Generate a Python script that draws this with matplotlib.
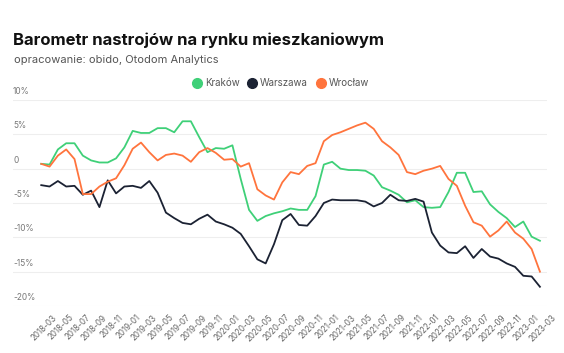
import matplotlib
matplotlib.use("Agg")
import matplotlib.pyplot as plt
import matplotlib.transforms as mtransforms
from matplotlib.lines import Line2D
import numpy as np
import pandas as pd

# miesiace 2018-03 .. 2023-03
months = pd.period_range("2018-03", "2023-03", freq="M").strftime("%Y-%m").tolist()

krakow = [0.7, 0.6, 2.8, 3.7, 3.7, 1.9, 1.2, 0.9, 0.9, 1.5,
          3.1, 5.5, 5.2, 5.2, 5.9, 5.9, 5.3, 6.9, 6.9, 4.6,
          2.4, 3.0, 2.9, 3.4, -1.5, -6.0, -7.6, -6.9, -6.5, -6.2,
          -5.8, -6.0, -6.0, -4.0, 0.6, 1.0, 0.0, -0.2, -0.2, -0.3,
          -1.0, -2.7, -3.2, -3.8, -4.9, -4.6, -5.6, -5.7, -5.6, -3.4,
          -0.6, -0.6, -3.4, -3.3, -5.2, -6.3, -7.2, -8.5, -7.7, -9.9,
          -10.5]
warszawa = [-2.4, -2.6, -1.8, -2.6, -2.5, -3.8, -3.2, -5.6, -1.7, -3.6,
            -2.6, -2.5, -2.8, -1.8, -3.5, -6.4, -7.2, -7.9, -8.1, -7.3,
            -6.7, -7.7, -8.1, -8.6, -9.5, -11.3, -13.2, -13.8, -11.0, -7.5,
            -6.6, -8.2, -8.3, -6.9, -5.0, -4.5, -4.6, -4.6, -4.6, -4.8,
            -5.5, -5.0, -3.8, -4.6, -4.7, -4.4, -4.8, -9.3, -11.2, -12.2,
            -12.3, -11.3, -13.0, -11.7, -12.8, -13.1, -13.8, -14.3, -15.6, -15.7,
            -17.2]
wroclaw = [0.7, 0.3, 1.9, 2.8, 1.4, -3.7, -3.7, -2.6, -1.9, -1.4,
           0.5, 2.9, 3.8, 2.4, 1.2, 2.0, 2.2, 1.9, 1.0, 2.4,
           3.0, 2.3, 1.3, 1.4, 0.3, 0.8, -3.0, -3.9, -4.5, -2.0,
           -0.5, -0.8, 0.4, 0.8, 4.0, 4.9, 5.3, 5.8, 6.3, 6.7,
           5.8, 4.0, 3.1, 2.0, -0.5, -0.8, -0.3, 0.0, 0.4, -1.5,
           -2.5, -5.4, -7.8, -8.3, -9.9, -9.0, -7.7, -9.3, -10.2, -11.7,
           -15.0]

yticks = [10, 5, 0, -5, -10, -15, -20]
ytick_labels = ["10%", "5%", "0", "-5%", "-10%", "-15%", "-20%"]

plt.rcParams['font.family'] = ['Inter', 'DejaVu Sans']

fig = plt.figure(figsize=(5.64, 3.53), dpi=100)
ax = fig.add_axes([13 / 564, 47 / 353, 534 / 564, 206 / 353])

x = np.arange(len(months))
ax.plot(x, krakow, color="#3fd078", lw=1.3, solid_joinstyle="round", label="Kraków")
ax.plot(x, warszawa, color="#1b2233", lw=1.3, solid_joinstyle="round", label="Warszawa")
ax.plot(x, wroclaw, color="#ff743d", lw=1.3, solid_joinstyle="round", label="Wrocław")

ax.set_xlim(-3.4, 60.85)
ax.set_ylim(-20, 10)
for s in ax.spines.values():
    s.set_visible(False)
ax.set_yticks(yticks)
ax.set_yticklabels([])
ax.tick_params(axis="both", length=0)
ax.grid(axis="y", color="#eeeeee", lw=0.8)
ax.set_axisbelow(True)

# etykiety osi Y nad liniami siatki
yt = mtransforms.blended_transform_factory(ax.transAxes, ax.transData)
for v, lab in zip(yticks, ytick_labels):
    ax.text(0.0, v, lab, transform=yt + mtransforms.ScaledTranslation(0, 3 / 72, fig.dpi_scale_trans),
            ha="left", va="bottom", fontsize=6, color="#777777")

# etykiety osi X co dwa miesiace
ax.set_xticks(x[::2])
ax.set_xticklabels([])
off = mtransforms.ScaledTranslation(8 / 72, -5 / 72, fig.dpi_scale_trans)
xt = mtransforms.blended_transform_factory(ax.transData, ax.transAxes)
for i in x[::2]:
    ax.text(i, 0, months[i], transform=xt + off, rotation=45, rotation_mode="anchor",
            ha="right", va="top", fontsize=5.8, color="#666666")

fig.text(13 / 564, 1 - 45 / 353, "Barometr nastrojów na rynku mieszkaniowym",
         fontsize=12, fontweight="bold", color="#111111", ha="left", va="baseline")
fig.text(14 / 564, 1 - 63 / 353, "opracowanie: obido, Otodom Analytics",
         fontsize=8, color="#555555", ha="left", va="baseline")

handles = [Line2D([], [], ls="none", marker="o", markersize=7, color=c)
           for c in ["#3fd078", "#1b2233", "#ff743d"]]
fig.legend(handles, ["Kraków", "Warszawa", "Wrocław"], loc="center", bbox_to_anchor=(281 / 564, 1 - 83 / 353),
           ncol=3, frameon=False, fontsize=7, labelcolor="#555555", handlelength=0.8,
           handletextpad=0.4, columnspacing=0.9)

fig.savefig("out.png", dpi=100)
